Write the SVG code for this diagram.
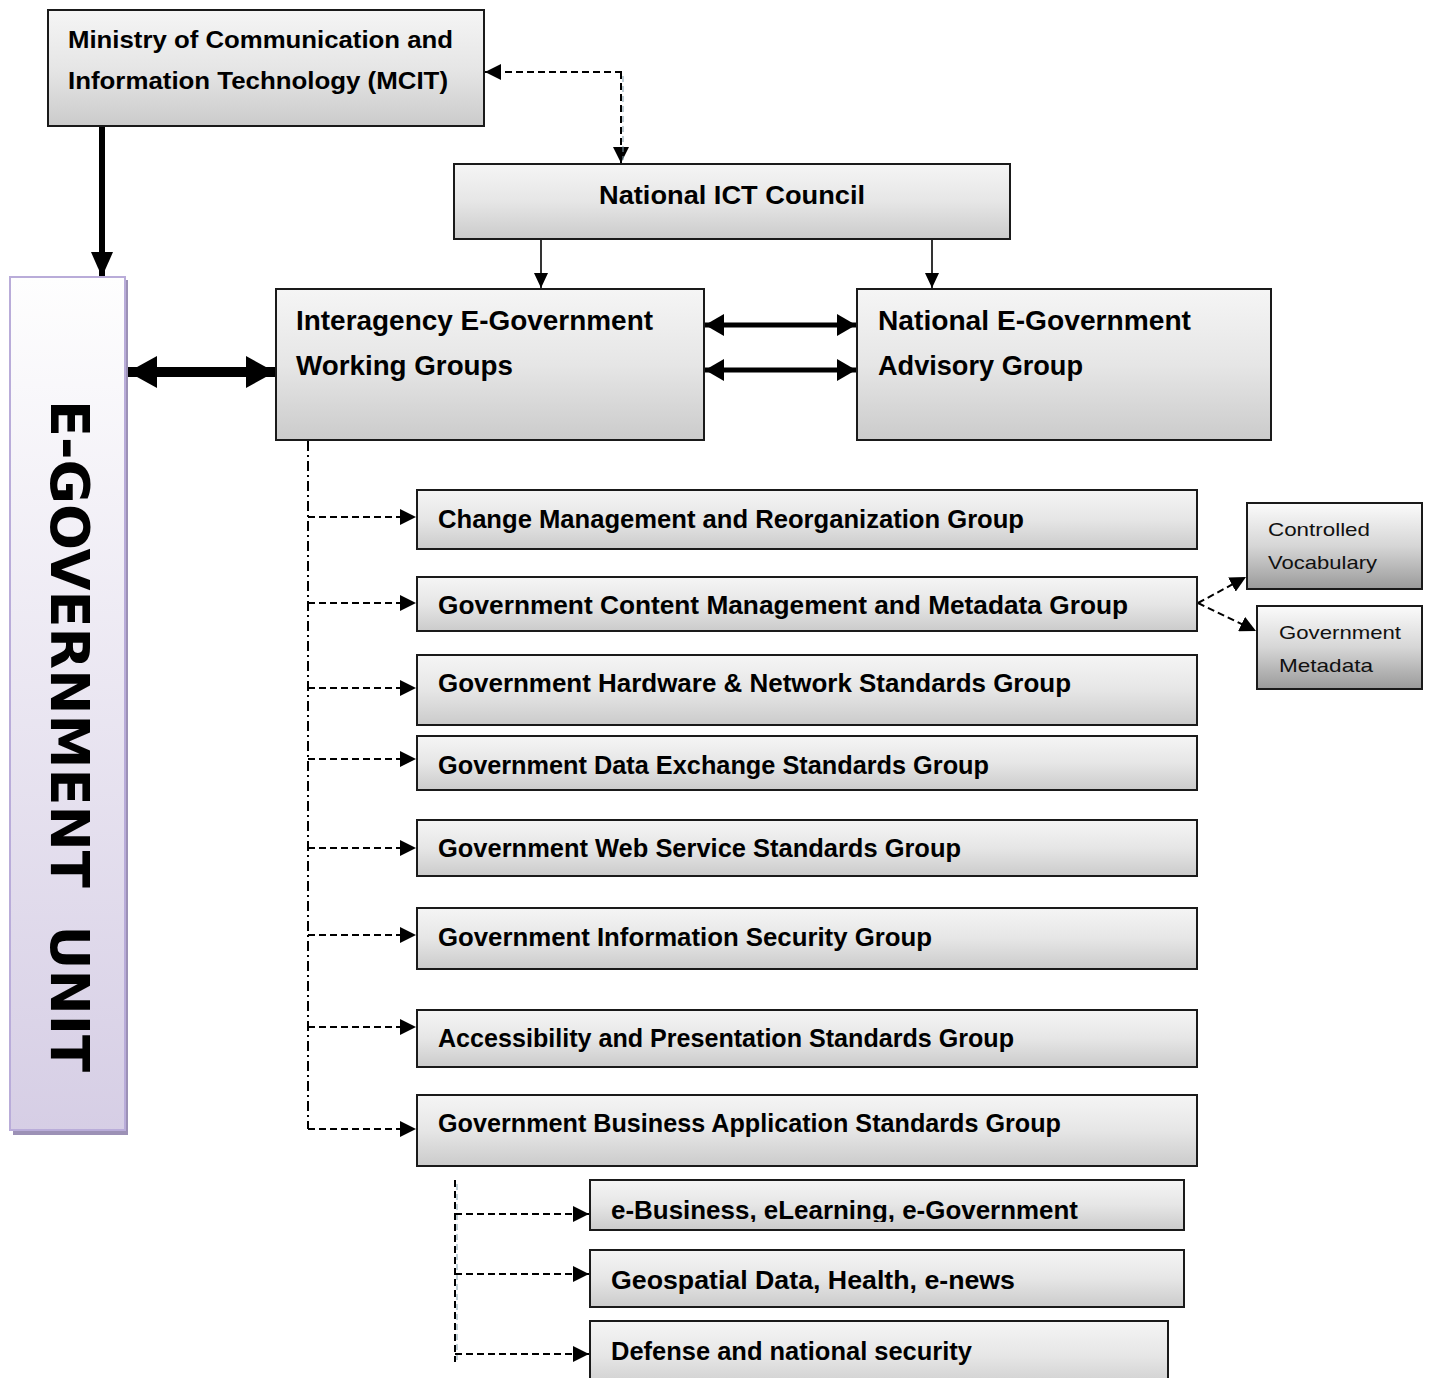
<svg xmlns="http://www.w3.org/2000/svg" width="1431" height="1378" viewBox="0 0 1431 1378">
<defs>
<linearGradient id="gBox" x1="0" y1="0" x2="0" y2="1">
<stop offset="0" stop-color="#f5f5f5"/>
<stop offset="0.5" stop-color="#e6e6e6"/>
<stop offset="1" stop-color="#cbcbcb"/>
</linearGradient>
<linearGradient id="gSmall" x1="0" y1="0" x2="0" y2="1">
<stop offset="0" stop-color="#fbfbfb"/>
<stop offset="0.5" stop-color="#d6d6d6"/>
<stop offset="1" stop-color="#9a9a9a"/>
</linearGradient>
<linearGradient id="gUnit" x1="0" y1="0" x2="0" y2="1">
<stop offset="0" stop-color="#fefefe"/>
<stop offset="1" stop-color="#d6cee5"/>
</linearGradient>
<marker id="mThin" markerUnits="userSpaceOnUse" markerWidth="16" markerHeight="14" refX="15" refY="7" orient="auto-start-reverse">
<path d="M0,0 L15,7 L0,14 z" fill="#000"/>
</marker>
<marker id="mDash" markerUnits="userSpaceOnUse" markerWidth="17" markerHeight="16" refX="16" refY="8" orient="auto-start-reverse">
<path d="M0,0 L16,8 L0,16 z" fill="#000"/>
</marker>
<marker id="mMid" markerUnits="userSpaceOnUse" markerWidth="20" markerHeight="22" refX="19" refY="11" orient="auto-start-reverse">
<path d="M0,0 L19,11 L0,22 z" fill="#000"/>
</marker>
<marker id="mBig" markerUnits="userSpaceOnUse" markerWidth="30" markerHeight="32" refX="29" refY="16" orient="auto-start-reverse">
<path d="M0,0 L29,16 L0,32 z" fill="#000"/>
</marker>
<marker id="mDown" markerUnits="userSpaceOnUse" markerWidth="26" markerHeight="22" refX="25" refY="11" orient="auto-start-reverse">
<path d="M0,0 L25,11 L0,22 z" fill="#000"/>
</marker>
<clipPath id="clipEB"><rect x="590" y="1180" width="600" height="42"/></clipPath>
</defs>
<style>
.box{fill:url(#gBox);stroke:#1a1a1a;stroke-width:2}
.sbox{fill:url(#gSmall);stroke:#1a1a1a;stroke-width:2}
.t{font-family:"Liberation Sans",Arial,sans-serif;font-weight:bold;fill:#000}
.ts{font-family:"Liberation Sans",Arial,sans-serif;fill:#111;font-size:19px}
.dash{fill:none;stroke:#000;stroke-width:2;stroke-dasharray:7,4}
.dashdot{fill:none;stroke:#000;stroke-width:2;stroke-dasharray:10,4,2,4}
.thin{fill:none;stroke:#000;stroke-width:1.6}
</style>
<rect width="1431" height="1378" fill="#fff"/>

<g id="connectors">
<path class="thin" d="M102,126 L102,277" style="stroke-width:6" marker-end="url(#mDown)"/>
<path class="dash" d="M622,72 L485,72" marker-end="url(#mDash)"/>
<path class="dash" d="M621,72 L621,163" marker-end="url(#mDash)"/>
<path d="M623,76 L623,160" fill="none" stroke="#7f9eae" stroke-width="1" stroke-dasharray="6,4"/>
<path class="thin" d="M541,240 L541,288" marker-end="url(#mThin)"/>
<path class="thin" d="M932,240 L932,288" marker-end="url(#mThin)"/>
<path d="M128,372 L275,372" fill="none" stroke="#000" stroke-width="10" marker-start="url(#mBig)" marker-end="url(#mBig)"/>
<path d="M705,325 L856,325" fill="none" stroke="#000" stroke-width="5" marker-start="url(#mMid)" marker-end="url(#mMid)"/>
<path d="M705,370 L856,370" fill="none" stroke="#000" stroke-width="5" marker-start="url(#mMid)" marker-end="url(#mMid)"/>
<path class="dashdot" d="M308,441 L308,1129"/>
<path class="dash" d="M308,517 L416,517" marker-end="url(#mDash)"/>
<path class="dash" d="M308,603 L416,603" marker-end="url(#mDash)"/>
<path class="dash" d="M308,688 L416,688" marker-end="url(#mDash)"/>
<path class="dash" d="M308,759 L416,759" marker-end="url(#mDash)"/>
<path class="dash" d="M308,848 L416,848" marker-end="url(#mDash)"/>
<path class="dash" d="M308,935 L416,935" marker-end="url(#mDash)"/>
<path class="dash" d="M308,1027 L416,1027" marker-end="url(#mDash)"/>
<path class="dash" d="M308,1129 L416,1129" marker-end="url(#mDash)"/>
<path class="dash" d="M1198,603 L1246,577" marker-end="url(#mDash)"/>
<path class="dash" d="M1198,603 L1256,631" marker-end="url(#mDash)"/>
<path class="dash" d="M455,1180 L455,1362"/>
<path d="M457,1184 L457,1360" fill="none" stroke="#7f9eae" stroke-width="1" stroke-dasharray="6,4"/>
<path class="dash" d="M455,1214 L589,1214" marker-end="url(#mDash)"/>
<path class="dash" d="M455,1274 L589,1274" marker-end="url(#mDash)"/>
<path class="dash" d="M455,1354 L589,1354" marker-end="url(#mDash)"/>
</g>

<g id="mcit">
<rect class="box" x="48" y="10" width="436" height="116"/>
<text class="t" x="68" y="48" font-size="23" textLength="385" lengthAdjust="spacingAndGlyphs">Ministry of Communication and</text>
<text class="t" x="68" y="89" font-size="23" textLength="380" lengthAdjust="spacingAndGlyphs">Information Technology (MCIT)</text>
</g>

<g id="ict-council">
<rect class="box" x="454" y="164" width="556" height="75"/>
<text class="t" x="599" y="204" font-size="25" textLength="266" lengthAdjust="spacingAndGlyphs">National ICT Council</text>
</g>

<g id="egov-unit">
<rect x="13" y="280" width="115" height="855" fill="#9c91b6"/>
<rect x="10" y="277" width="115" height="853" fill="url(#gUnit)" stroke="#b9acd9" stroke-width="2"/>
<text transform="translate(51,400) rotate(90)" x="0" y="0" font-family="'DejaVu Sans',Verdana,sans-serif" font-weight="bold" font-size="54" fill="#000" xml:space="preserve" textLength="672" lengthAdjust="spacingAndGlyphs">E-GOVERNMENT  UNIT</text>
</g>

<g id="interagency">
<rect class="box" x="276" y="289" width="428" height="151"/>
<text class="t" x="296" y="330" font-size="27" textLength="357" lengthAdjust="spacingAndGlyphs">Interagency E-Government</text>
<text class="t" x="296" y="375" font-size="27" textLength="217" lengthAdjust="spacingAndGlyphs">Working Groups</text>
</g>

<g id="advisory">
<rect class="box" x="857" y="289" width="414" height="151"/>
<text class="t" x="878" y="330" font-size="27" textLength="313" lengthAdjust="spacingAndGlyphs">National E-Government</text>
<text class="t" x="878" y="375" font-size="27" textLength="205" lengthAdjust="spacingAndGlyphs">Advisory Group</text>
</g>

<g id="g-change">
<rect class="box" x="417" y="490" width="780" height="59"/>
<text class="t" x="438" y="528" font-size="25" textLength="586" lengthAdjust="spacingAndGlyphs">Change Management and Reorganization Group</text>
</g>
<g id="g-content">
<rect class="box" x="417" y="577" width="780" height="54"/>
<text class="t" x="438" y="614" font-size="25" textLength="690" lengthAdjust="spacingAndGlyphs">Government Content Management and Metadata Group</text>
</g>
<g id="g-hardware">
<rect class="box" x="417" y="655" width="780" height="70"/>
<text class="t" x="438" y="692" font-size="25" textLength="633" lengthAdjust="spacingAndGlyphs">Government Hardware &amp; Network Standards Group</text>
</g>
<g id="g-data">
<rect class="box" x="417" y="736" width="780" height="54"/>
<text class="t" x="438" y="774" font-size="25" textLength="551" lengthAdjust="spacingAndGlyphs">Government Data Exchange Standards Group</text>
</g>
<g id="g-web">
<rect class="box" x="417" y="820" width="780" height="56"/>
<text class="t" x="438" y="857" font-size="25" textLength="523" lengthAdjust="spacingAndGlyphs">Government Web Service Standards Group</text>
</g>
<g id="g-security">
<rect class="box" x="417" y="908" width="780" height="61"/>
<text class="t" x="438" y="946" font-size="25" textLength="494" lengthAdjust="spacingAndGlyphs">Government Information Security Group</text>
</g>
<g id="g-access">
<rect class="box" x="417" y="1010" width="780" height="57"/>
<text class="t" x="438" y="1047" font-size="25" textLength="576" lengthAdjust="spacingAndGlyphs">Accessibility and Presentation Standards Group</text>
</g>
<g id="g-business">
<rect class="box" x="417" y="1095" width="780" height="71"/>
<text class="t" x="438" y="1132" font-size="25" textLength="623" lengthAdjust="spacingAndGlyphs">Government Business Application Standards Group</text>
</g>

<g id="controlled-vocab">
<rect class="sbox" x="1247" y="503" width="175" height="86"/>
<text class="ts" x="1268" y="536" textLength="102" lengthAdjust="spacingAndGlyphs">Controlled</text>
<text class="ts" x="1268" y="569" textLength="109" lengthAdjust="spacingAndGlyphs">Vocabulary</text>
</g>
<g id="gov-metadata">
<rect class="sbox" x="1257" y="606" width="165" height="83"/>
<text class="ts" x="1279" y="639" textLength="122" lengthAdjust="spacingAndGlyphs">Government</text>
<text class="ts" x="1279" y="672" textLength="94" lengthAdjust="spacingAndGlyphs">Metadata</text>
</g>

<g id="sub-ebusiness">
<rect class="box" x="590" y="1180" width="594" height="50"/>
<text class="t" x="611" y="1219" font-size="25" textLength="467" lengthAdjust="spacingAndGlyphs" clip-path="url(#clipEB)">e-Business,  eLearning,  e-Government</text>
</g>
<g id="sub-geo">
<rect class="box" x="590" y="1250" width="594" height="57"/>
<text class="t" x="611" y="1289" font-size="25" textLength="404" lengthAdjust="spacingAndGlyphs">Geospatial Data,  Health,  e-news</text>
</g>
<g id="sub-defense">
<rect class="box" x="590" y="1321" width="578" height="70"/>
<text class="t" x="611" y="1360" font-size="25" textLength="361" lengthAdjust="spacingAndGlyphs">Defense and national security</text>
</g>
</svg>
